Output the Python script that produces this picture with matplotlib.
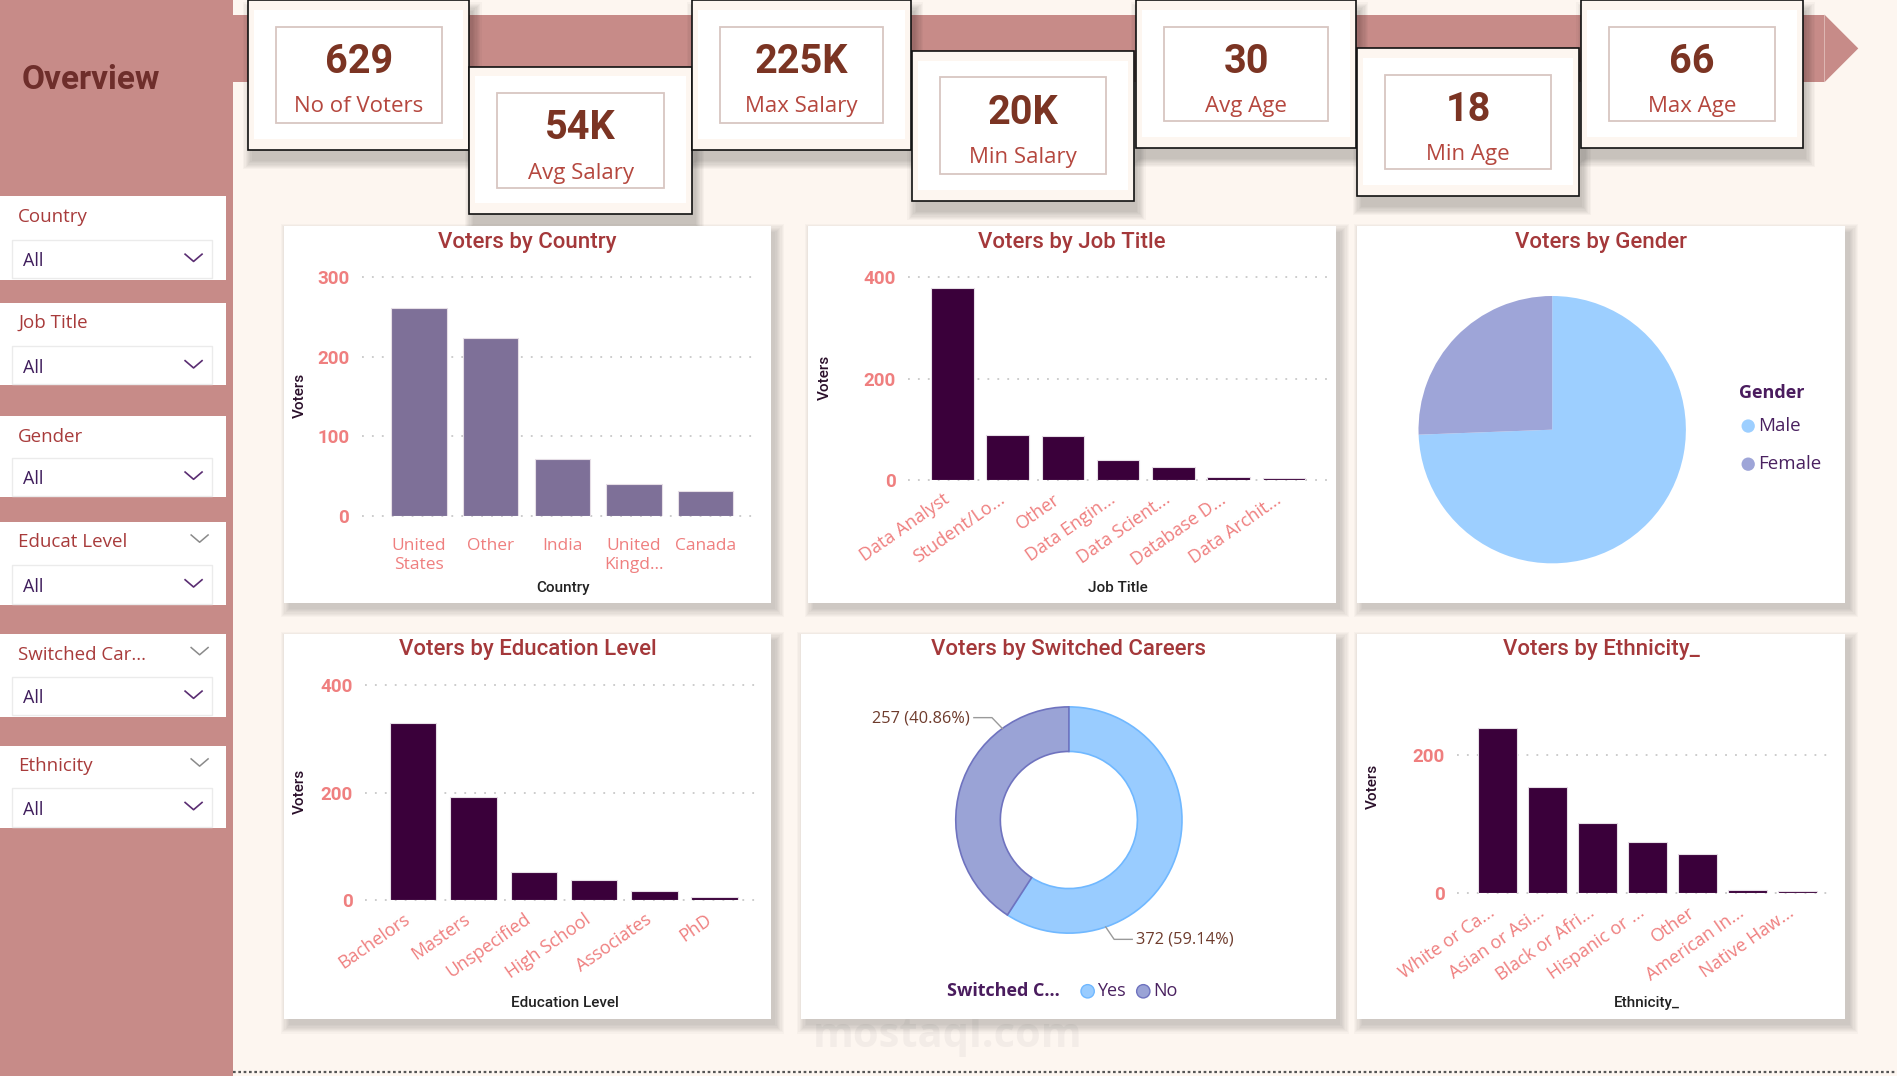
import matplotlib
matplotlib.use('Agg')
import matplotlib.pyplot as plt
import matplotlib.transforms as mtransforms
from matplotlib.patches import Rectangle, Polygon, Circle
import numpy as np

# ---------------- data ----------------
kpi_values = ['629', '54K', '225K', '20K', '30', '18', '66']
kpi_labels = ['No of Voters', 'Avg Salary', 'Max Salary', 'Min Salary', 'Avg Age', 'Min Age', 'Max Age']

countries = ['United\nStates', 'Other', 'India', 'United\nKingd...', 'Canada']
country_voters = [261, 224, 72, 40, 32]

job_titles = ['Data Analyst', 'Student/Lo...', 'Other', 'Data Engin...', 'Data Scient...',
              'Database D...', 'Data Archit...']
job_voters = [380, 89, 87, 39, 26, 5, 3]

genders = ['Male', 'Female']
gender_voters = [468, 161]

edu_levels = ['Bachelors', 'Masters', 'Unspecified', 'High School', 'Associates', 'PhD']
edu_voters = [329, 191, 52, 36, 16, 5]

switched = ['Yes', 'No']
switched_voters = [372, 257]

ethnicities = ['White or Ca...', 'Asian or Asi...', 'Black or Afri...', 'Hispanic or ...',
               'Other', 'American In...', 'Native Haw...']
eth_voters = [239, 153, 101, 74, 56, 4, 2]

slicer_titles = ['Country', 'Job Title', 'Gender', 'Educat Level', 'Switched Car...', 'Ethnicity']
slicer_values = ['All', 'All', 'All', 'All', 'All', 'All']

# ---------------- style ----------------
BG = '#FDF6F0'
ROSE = '#C78B88'
TITLE = '#A4383A'
SALMON = '#EF7F7F'
DARKBAR = '#3A003A'
COUNTRYBAR = '#7E7098'
KPI_NUM = '#7B3423'
KPI_LAB = '#B5473E'
W, H = 1568.0, 889.0

fig = plt.figure(figsize=(18.97, 10.76), dpi=100)
fig.patch.set_facecolor(BG)
bg = fig.add_axes([0, 0, 1, 1], zorder=0)
bg.set_xlim(0, W)
bg.set_ylim(H, 0)
bg.axis('off')


def fr(x0, y0, x1, y1):
    return [x0 / W, 1 - y1 / H, (x1 - x0) / W, (y1 - y0) / H]


def shadow(x0, y0, x1, y1, dx=4, dy=4, n=6, a=0.03):
    for i in range(n):
        bg.add_patch(Rectangle((x0 + dx - i, y0 + dy - i), (x1 - x0) + 2 * i, (y1 - y0) + 2 * i,
                               facecolor='black', edgecolor='none', alpha=a, zorder=1))


# watermark (behind panels)
bg.text(783, 856, 'mostaql.com', fontsize=30, fontweight='bold', color='#F3ECE7',
        ha='center', va='center', family='Open Sans', zorder=0.5)

# sidebar
bg.add_patch(Rectangle((0, 0), 193, 889, facecolor=ROSE, edgecolor='none', zorder=1))
bg.text(18, 66, 'Overview', fontsize=24, fontweight='bold', color='#6E2E2B',
        family='Roboto', ha='left', va='center', zorder=3)

# slicers
sl_tops = [162, 250, 344, 431, 524, 616]
sl_bots = [231, 318, 411, 500, 592, 684]
sl_dd = [198, 286, 378, 467, 559, 651]
for i, (t, v) in enumerate(zip(slicer_titles, slicer_values)):
    top, bot, dd = sl_tops[i], sl_bots[i], sl_dd[i]
    bg.add_patch(Rectangle((0, top), 187, bot - top, facecolor='white', edgecolor='none', zorder=2))
    bg.add_patch(Rectangle((10, dd), 165, bot - dd - 1, facecolor='white', edgecolor='#EBEBEB',
                           linewidth=1, zorder=2.5))
    bg.text(15, top + 17, t, fontsize=13.5, color='#A83B3B', family='Open Sans',
            ha='left', va='center', zorder=3)
    bg.text(19, dd + 18, v, fontsize=13, color='#3F1D5C', family='Open Sans',
            ha='left', va='center', zorder=3)
    cy = dd + 16
    bg.plot([153, 160, 167], [cy - 4, cy + 2, cy - 4], color='#5A2D72', lw=1.2, zorder=3)
    if i >= 3:
        ly = top + 14
        bg.plot([158, 165, 172], [ly - 3, ly + 3, ly - 3], color='#8A8A8A', lw=1.1, zorder=3)

# top band with arrow
bg.add_patch(Rectangle((193, 12), 1508 - 193, 56, facecolor=ROSE, edgecolor='none', zorder=1))
bg.add_patch(Polygon([(1508, 12), (1536, 40), (1508, 68)], closed=True, facecolor=ROSE,
                     edgecolor='none', zorder=1))

# KPI cards
cards = [(205, 0, 388, 124), (388, 55, 572, 177), (572, 0, 753, 124), (754, 42, 937, 166),
         (939, 0, 1121, 122), (1122, 40, 1305, 162), (1307, 0, 1490, 122)]
for (x0, y0, x1, y1), val, lab in zip(cards, kpi_values, kpi_labels):
    shadow(x0, y0, x1, y1, dx=3, dy=9, n=8, a=0.026)
    bg.add_patch(Rectangle((x0, y0), x1 - x0, y1 - y0, facecolor=BG, edgecolor='#111111',
                           linewidth=1.2, zorder=2))
    bg.add_patch(Rectangle((x0 + 5, y0 + 8), x1 - x0 - 10, y1 - y0 - 17, facecolor='white',
                           edgecolor='none', zorder=2.1))
    ix0, iy0, ix1, iy1 = x0 + 23, y0 + 22, x1 - 23, y1 - 22
    bg.add_patch(Rectangle((ix0, iy0), ix1 - ix0, iy1 - iy0, facecolor='none',
                           edgecolor='#D8C6C1', linewidth=1.3, zorder=2.2))
    cx = (x0 + x1) / 2
    bg.text(cx, y0 + 51, val, fontsize=28.5, fontweight='bold', color=KPI_NUM,
            family='Roboto', ha='center', va='center', zorder=3)
    bg.text(cx, y0 + 88, lab, fontsize=16, color=KPI_LAB, family='Open Sans',
            ha='center', va='center', zorder=3)

# panels
panels = {
    'country': (235, 187, 637, 498),
    'job': (668, 187, 1104, 498),
    'gender': (1122, 187, 1525, 498),
    'edu': (235, 524, 637, 842),
    'switch': (662, 524, 1104, 842),
    'eth': (1122, 524, 1525, 842),
}
titles = {
    'country': 'Voters by Country', 'job': 'Voters by Job Title', 'gender': 'Voters by Gender',
    'edu': 'Voters by Education Level', 'switch': 'Voters by Switched Careers',
    'eth': 'Voters by Ethnicity_',
}
for k, (x0, y0, x1, y1) in panels.items():
    shadow(x0, y0, x1, y1, dx=4, dy=5, n=8, a=0.022)
    bg.add_patch(Rectangle((x0, y0), x1 - x0, y1 - y0, facecolor='white', edgecolor='none', zorder=2))
    bg.text((x0 + x1) / 2, y0 + 13, titles[k], fontsize=16, color=TITLE, family='Roboto',
            fontweight='medium', ha='center', va='center', zorder=3)

# bottom dotted line
bg.plot([193, 1568], [886, 886], color='#555555', lw=1.6, linestyle=(0, (1.2, 1.2)), zorder=3)

label_shift = mtransforms.ScaledTranslation(-0.10, -0.02, fig.dpi_scale_trans)


def bar_chart(rect, cats, vals, color, ymax, ticks, xlim, rot, xlabel, xlabel_pos, ylabel_pos):
    ax = fig.add_axes(fr(*rect), zorder=5)
    ax.set_facecolor('none')
    x = np.arange(len(cats))
    ax.bar(x, vals, width=0.77, color=color, edgecolor='#E6DEE6', linewidth=0.8, zorder=3)
    ax.set_xlim(*xlim)
    ax.set_ylim(0, ymax)
    ax.set_yticks(ticks)
    ax.set_yticklabels([str(t) for t in ticks], family='Roboto', fontweight='bold',
                       fontsize=13.5, color=SALMON)
    ax.yaxis.grid(True, linestyle=(0, (1, 4.5)), color='#C8C8C8', linewidth=1.3)
    for gl in ax.get_ygridlines():
        gl.set_clip_on(False)
    ax.set_axisbelow(True)
    for s in ax.spines.values():
        s.set_visible(False)
    ax.tick_params(axis='y', length=0, pad=9)
    ax.tick_params(axis='x', length=0, pad=16 if not rot else 6)
    ax.set_xticks(x)
    if rot:
        ax.set_xticklabels(cats, rotation=35, ha='right', va='top', rotation_mode='anchor',
                           family='Open Sans', fontsize=13, color=SALMON)
        for lbl in ax.get_xticklabels():
            lbl.set_transform(lbl.get_transform() + label_shift)
    else:
        ax.set_xticklabels(cats, family='Open Sans', fontsize=12.5, color=SALMON, linespacing=1.25)
    bg.text(xlabel_pos[0], xlabel_pos[1], xlabel, fontsize=11, color='#222222', family='Roboto',
            fontweight='medium', ha='center', va='center', zorder=6)
    bg.text(ylabel_pos[0], ylabel_pos[1], 'Voters', fontsize=11, color='#2A0F2A', family='Roboto',
            fontweight='medium', rotation=90, ha='center', va='center', zorder=6)
    return ax


bar_chart((299, 229.2, 627, 426.3), countries, country_voters, COUNTRYBAR, 300, [0, 100, 200, 300],
          (-0.80, 4.74), False, 'Country', (465, 486), (248, 327))
bar_chart((750.6, 229.2, 1097.8, 396.5), job_titles, job_voters, DARKBAR, 400, [0, 200, 400],
          (-0.80, 6.80), True, 'Job Title', (924, 486), (682, 312))
bar_chart((301.7, 566.2, 629.6, 743.4), edu_levels, edu_voters, DARKBAR, 400, [0, 200, 400],
          (-0.80, 5.78), True, 'Education Level', (467, 829), (248, 654))
bar_chart((1204.7, 566.4, 1513.9, 737.6), ethnicities, eth_voters, DARKBAR, 300, [0, 200],
          (-0.80, 6.68), True, 'Ethnicity_', (1361, 829), (1135, 650))

# gender pie
gcx, gcy, gr = 1283, 355, 110.5
axp = fig.add_axes(fr(gcx - gr, gcy - gr, gcx + gr, gcy + gr), zorder=5)
axp.pie(gender_voters, colors=['#9DCFFF', '#9EA5D8'], startangle=90, counterclock=False,
        radius=1, wedgeprops=dict(edgecolor='none'))
axp.set_xlim(-1, 1)
axp.set_ylim(-1, 1)
bg.text(1437, 325, 'Gender', fontsize=13, fontweight='bold', color='#4A1C5E',
        family='Open Sans', ha='left', va='center', zorder=6)
for j, (g, c) in enumerate(zip(genders, ['#9DCFFF', '#9EA5D8'])):
    yy = 352 + 31.5 * j
    bg.add_patch(Circle((1445, yy), 5.5, facecolor=c, edgecolor='none', zorder=6))
    bg.text(1453, yy, g, fontsize=13.5, color='#4A2160', family='Open Sans',
            ha='left', va='center', zorder=6)

# switched careers donut
dcx, dcy, dr = 883.5, 677.5, 93.5
axd = fig.add_axes(fr(dcx - dr, dcy - dr, dcx + dr, dcy + dr), zorder=5)
wedges, _ = axd.pie(switched_voters, colors=['#99CCFF', '#9AA3D6'], startangle=90,
                    counterclock=False, radius=1, wedgeprops=dict(width=0.394, linewidth=1.2))
wedges[0].set_edgecolor('#70B8FF')
wedges[1].set_edgecolor('#6F73BF')
axd.set_xlim(-1, 1)
axd.set_ylim(-1, 1)
total = sum(switched_voters)
lab_no = f'{switched_voters[1]} ({switched_voters[1] / total * 100:.2f}%)'
lab_yes = f'{switched_voters[0]} ({switched_voters[0] / total * 100:.2f}%)'
# leader lines (in donut units)
a1 = np.deg2rad(126)
axd.plot([np.cos(a1), -0.68, -0.84], [np.sin(a1), 0.905, 0.905], color='#9A9A9A', lw=1,
         clip_on=False)
axd.text(-0.88, 0.895, lab_no, fontsize=11.8, color='#6E3B2C', family='Open Sans',
         ha='right', va='center')
a2 = np.deg2rad(-71)
axd.plot([np.cos(a2), 0.40, 0.56], [np.sin(a2), -1.055, -1.055], color='#9A9A9A', lw=1,
         clip_on=False)
axd.text(0.595, -1.06, lab_yes, fontsize=11.8, color='#6E3B2C', family='Open Sans',
         ha='left', va='center')
bg.text(783, 819, 'Switched C...', fontsize=13, fontweight='bold', color='#4A1C5E',
        family='Open Sans', ha='left', va='center', zorder=6)
for lbl, c, ec, xx in zip(switched, ['#99CCFF', '#9AA3D6'], ['#70B8FF', '#6F73BF'], [899, 945]):
    bg.add_patch(Circle((xx, 819), 5.5, facecolor=c, edgecolor=ec, linewidth=1, zorder=6))
    bg.text(xx + 8, 819, lbl, fontsize=13, color='#4A2160', family='Open Sans',
            ha='left', va='center', zorder=6)

fig.savefig('out.png', dpi=100, facecolor=BG)
